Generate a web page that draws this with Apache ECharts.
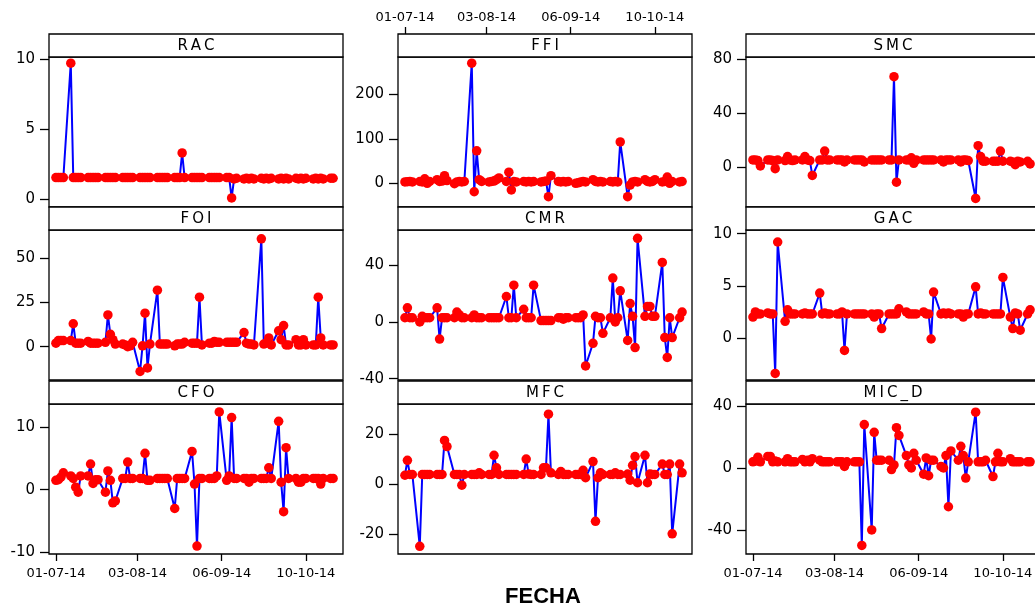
<!DOCTYPE html>
<html>
<head>
<meta charset="utf-8">
<script src="https://cdn.jsdelivr.net/npm/echarts@6/dist/echarts.min.js"></script>
<style>
  html, body { margin: 0; padding: 0; background: #fff; }
  #main { width: 1035px; height: 609px; }
</style>
</head>
<body>
<div id="main"></div>
<script>
// fechas de cotizacion (dias habiles)
const fechas = [
  '01-07-14','02-07-14','03-07-14','04-07-14','07-07-14','08-07-14','09-07-14','10-07-14','11-07-14',
  '14-07-14','15-07-14','16-07-14','17-07-14','18-07-14','21-07-14','22-07-14','23-07-14','24-07-14',
  '25-07-14','28-07-14','29-07-14','30-07-14','31-07-14',
  '01-08-14','04-08-14','05-08-14','06-08-14','07-08-14','08-08-14','11-08-14','12-08-14','13-08-14',
  '14-08-14','15-08-14','18-08-14','19-08-14','20-08-14','21-08-14','22-08-14','25-08-14','26-08-14',
  '27-08-14','28-08-14','29-08-14',
  '01-09-14','02-09-14','03-09-14','04-09-14','05-09-14','08-09-14','09-09-14','10-09-14','11-09-14',
  '12-09-14','15-09-14','16-09-14','17-09-14','18-09-14','19-09-14','22-09-14','23-09-14','24-09-14',
  '25-09-14','26-09-14','29-09-14','30-09-14',
  '01-10-14','02-10-14','03-10-14','06-10-14','07-10-14','08-10-14','09-10-14','10-10-14','13-10-14',
  '14-10-14','15-10-14','16-10-14','17-10-14','20-10-14','21-10-14'
];

// marcas del eje x
const xTickLabels = ['01-07-14', '03-08-14', '06-09-14', '10-10-14'];

const RAC = [
  1.55,1.55,1.55,1.55,9.7,1.55,1.55,1.55,1.55,1.55,
  1.55,1.55,1.55,1.55,1.55,1.55,1.55,1.55,1.55,1.55,
  1.55,1.55,1.55,1.55,1.55,1.55,1.55,1.55,1.55,1.55,
  1.55,1.55,1.55,1.55,1.55,1.55,1.55,3.3,1.55,1.55,
  1.55,1.55,1.55,1.55,1.55,1.55,1.55,1.55,1.55,1.55,
  1.55,0.1,1.45,1.5,1.45,1.5,1.45,1.5,1.45,1.5,
  1.45,1.5,1.45,1.5,1.45,1.5,1.45,1.5,1.45,1.5,
  1.45,1.5,1.45,1.5,1.45,1.5,1.45,1.5,1.45,1.5,
  1.5
];
const FFI = [
  3,3.5,4,3,4,3,10,0,4,8,
  4,5,17,6,-1,3,4,3,4,270,
  -19,73,8,4,3,4,5,8,12,4,
  25,-15,4,3,4,3,4,3,4,3,
  4,5,-30,17,4,3,4,3,4,0,
  1,3,4,3,8,4,3,4,3,4,
  3,4,3,93,-30,-4,3,4,3,8,
  4,3,4,8,3,4,14,0,4,3,
  4
];
const SMC = [
  5.5,5.5,5,1,5.5,5.5,5,-1,5.5,5,
  8,5.5,5,5.5,5.5,8,5.5,5,-6,5.5,
  5.5,12,5.5,5.5,5.5,5.5,5.5,4,5.5,5.5,
  5.5,5.5,5.5,4,5.5,5.5,5.5,5.5,5.5,5.5,
  5.5,67,-11,5.5,5.5,5.5,7,3,5.5,5.5,
  5.5,5.5,5.5,5.5,5.5,4,5.5,5.5,5.5,5.5,
  4,5.5,5.5,5,-23,16,8,4.5,4.5,4.5,
  4.5,4.5,12,4.5,4.5,4,2,4.5,4,4.5,
  2.5
];
const FOI = [
  2,3.5,3.5,3.5,3.5,13,2,2,2,3,
  2,2,2,2,2.5,18,7,4,1.5,1.5,
  1,0,0.5,2.5,-14,0.5,19,-12,1.5,32,
  1.5,1.5,1.5,1.5,0.5,1.5,1.5,1.5,2.5,2,
  2,2,28,1,2,2,3,2.5,2.5,2.5,
  2.5,2.5,2.5,2.5,8,2,1.5,1.5,1,61,
  1.5,2,5,1,9,4,12,1,1,4,
  1,1,4,1,1,1,28,5,1,1,
  1
];
const CMR = [
  3,10,3,3,0,4,3,3,3,10,
  -12,3,3,3,3,7,5,3,3,3,
  5,3,3,3,3,3,3,3,3,18,
  3,3,26,3,9,3,3,3,26,1,
  1,1,1,1,3,3,2,3,3,3,
  3,3,5,-31,-15,4,3,3,-8,3,
  31,0,3,22,-13,13,4,-18,59,4,
  11,11,4,4,42,-11,-25,3,-11,3,
  7
];
const GAC = [
  2.0,2.5,2.3,2.3,2.4,2.3,2.3,-3.4,9.2,1.6,
  2.7,2.3,2.3,2.3,2.3,2.4,2.3,2.3,2.3,4.3,
  2.3,2.4,2.3,2.3,2.3,2.3,2.5,-1.2,2.3,2.3,
  2.3,2.3,2.3,2.3,2.3,2.0,2.3,2.3,0.9,2.3,
  2.3,2.3,2.3,2.8,2.5,2.3,2.3,2.3,2.3,2.5,
  2.3,2.3,-0.1,4.4,2.3,2.4,2.3,2.4,2.3,2.3,
  2.3,2.0,2.3,2.3,4.9,2.3,2.4,2.3,2.3,2.3,
  2.3,2.3,2.3,5.8,2.0,0.9,2.4,2.3,0.75,2.3,
  2.7
];
const CFO = [
  1.5,1.6,2.0,2.7,2.2,1.8,0.4,-0.4,2.2,2.2,
  4.1,1.0,1.6,1.6,-0.4,3.0,1.5,-2.1,-1.8,1.8,
  1.8,4.4,1.8,1.8,1.8,1.8,5.8,1.5,1.5,1.8,
  1.8,1.8,1.8,1.8,-3,1.8,1.8,1.8,1.8,6.1,
  0.9,-9,1.8,1.8,1.8,1.8,1.8,2.2,12.4,1.5,
  2.2,11.5,1.8,1.8,1.8,1.8,1.2,1.8,1.8,1.8,
  1.8,1.8,3.5,1.8,10.9,1.2,-3.5,6.7,1.8,1.8,
  1.2,1.2,1.8,1.8,1.8,1.8,1.8,0.9,1.8,1.8,
  1.8
];
const MFC = [
  3.5,9.5,3.8,3.8,-25,3.8,3.8,3.8,3.8,3.8,
  3.8,3.8,17.5,15,3.8,3.8,3.8,-0.5,3.8,3.8,
  3.8,3.8,4.5,3.8,3.8,3.8,11.5,6.5,3.8,3.8,
  3.8,3.8,3.8,3.8,3.8,10,4,3.8,3.8,3.8,
  6.5,6.5,28,4.5,3.8,5,3.8,3.8,3.8,3.8,
  3.8,3.8,5.5,2.5,9,-15,2.5,4.5,3.8,3.8,
  3.8,4.5,3.8,3.8,4,1.5,7.5,11,0.5,11.5,
  0.5,4,3.8,3.8,8,3.8,3.8,8,-20,8,
  4.5
];
const MIC_D = [
  4,4.5,7,4,7.5,7.5,4,4.5,4,4,
  6,4,4,4,5.5,4,5,4,6,5,
  4,4,4,4,4,4,4,1,4,4,
  4,4,-50,28,-40,23,5,5,5,5,
  -1,2,26,21,8,2,0,9.5,5,-4,
  6.5,-5,5,5,1,0,8,-25,11,5,
  14,8,-6.5,4,36,4,4,4,5,-5.5,
  4,9.5,4,4,6,4,4,4,4,4,
  4
];

// dia relativo al 01-07-14
function diaDe(f) {
  const p = f.split('-');
  return (Date.UTC(2000 + +p[2], +p[1] - 1, +p[0]) - Date.UTC(2014, 6, 1)) / 86400000;
}
const dias = fechas.map(diaDe);
const xTicks = xTickLabels.map(diaDe);

const paneles = [
  { nombre: 'RAC',   datos: RAC,   col: 0, fila: 0, min: -0.55, max: 10.14, ticks: [0, 5, 10] },
  { nombre: 'FFI',   datos: FFI,   col: 1, fila: 0, min: -53.3, max: 283.8, ticks: [0, 100, 200] },
  { nombre: 'SMC',   datos: SMC,   col: 2, fila: 0, min: -29.3, max: 81.5,  ticks: [0, 40, 80] },
  { nombre: 'FOI',   datos: FOI,   col: 0, fila: 1, min: -18.8, max: 66,    ticks: [0, 25, 50] },
  { nombre: 'CMR',   datos: CMR,   col: 1, fila: 1, min: -40.9, max: 64.9,  ticks: [-40, 0, 40] },
  { nombre: 'GAC',   datos: GAC,   col: 2, fila: 1, min: -4.03, max: 10.35, ticks: [0, 5, 10] },
  { nombre: 'CFO',   datos: CFO,   col: 0, fila: 2, min: -10.26, max: 13.67, ticks: [-10, 0, 10] },
  { nombre: 'MFC',   datos: MFC,   col: 1, fila: 2, min: -28.1, max: 32.1,  ticks: [-20, 0, 20] },
  { nombre: 'MIC_D', datos: MIC_D, col: 2, fila: 2, min: -55.5, max: 41.3,  ticks: [-40, 0, 40] }
];

const colX = [49, 398, 746];
const anchoPanel = 294;
const filaY = [57, 230, 404];
const altoPanel = 150;
const altoStrip = 23;
const xMin = -2.8, xMax = 116;
const fuente = 'DejaVu Sans';
const tickStyle = { color: '#000', width: 1.3 };

const grids = [], xAxes = [], yAxes = [], series = [], graficos = [];

paneles.forEach((p, i) => {
  grids.push({
    left: colX[p.col], top: filaY[p.fila], width: anchoPanel, height: altoPanel,
    show: true, borderColor: '#000', borderWidth: 1.3, backgroundColor: '#fff',
    outerBoundsMode: 'none'
  });
  const conEjeX = p.fila === 2 && p.col !== 1;
  xAxes.push({
    type: 'value', gridIndex: i, min: xMin, max: xMax, position: 'bottom',
    splitLine: { show: false },
    axisLine: { show: false, onZero: false },
    axisTick: { show: conEjeX, customValues: xTicks, length: 7, lineStyle: tickStyle },
    axisLabel: {
      show: conEjeX, customValues: xTicks, margin: 13, color: '#000', fontFamily: fuente, fontSize: 13,
      formatter: v => xTickLabels[xTicks.indexOf(v)]
    }
  });
  yAxes.push({
    type: 'value', gridIndex: i, min: p.min, max: p.max, position: 'left',
    splitLine: { show: false },
    axisLine: { show: false, onZero: false },
    axisTick: { show: true, customValues: p.ticks, length: 9, lineStyle: tickStyle },
    axisLabel: { customValues: p.ticks, margin: 14, color: '#000', fontFamily: fuente, fontSize: 15 }
  });
  series.push({
    type: 'line', xAxisIndex: i, yAxisIndex: i,
    data: dias.map((d, k) => [d, p.datos[k]]),
    symbol: 'circle', symbolSize: 9.5, showSymbol: true,
    lineStyle: { color: '#0000ff', width: 2 },
    itemStyle: { color: '#ff0000', borderWidth: 0 },
    emphasis: { disabled: true }
  });
  // cabecera del panel
  graficos.push({
    type: 'rect',
    shape: { x: colX[p.col], y: filaY[p.fila] - altoStrip, width: anchoPanel, height: altoStrip },
    style: { fill: '#fff', stroke: '#000', lineWidth: 1.3 }
  });
  graficos.push({
    type: 'text',
    x: colX[p.col] + anchoPanel / 2, y: filaY[p.fila] - altoStrip / 2 + 1,
    style: {
      text: p.nombre.split('').join('\u2009'), fill: '#000',
      font: '15px "DejaVu Sans"', textAlign: 'center', textVerticalAlign: 'middle'
    }
  });
});

// eje x superior de la columna central
grids.push({ left: colX[1], top: filaY[0] - altoStrip, width: anchoPanel, height: altoPanel + altoStrip, show: false, outerBoundsMode: 'none' });
xAxes.push({
  type: 'value', gridIndex: 9, min: xMin, max: xMax, position: 'top',
  splitLine: { show: false }, axisLine: { show: false, onZero: false },
  axisTick: { show: true, customValues: xTicks, length: 7, lineStyle: tickStyle },
  axisLabel: {
    customValues: xTicks, margin: 10, color: '#000', fontFamily: fuente, fontSize: 13,
    formatter: v => xTickLabels[xTicks.indexOf(v)]
  }
});
yAxes.push({ type: 'value', gridIndex: 9, min: 0, max: 1, show: false });

graficos.push({
  type: 'text', x: 543, y: 597,
  style: {
    text: 'FECHA', fill: '#000', font: 'bold 22px "Liberation Sans"',
    textAlign: 'center', textVerticalAlign: 'middle'
  }
});

const chart = echarts.init(document.getElementById('main'), null, { renderer: 'canvas' });
chart.setOption({
  animation: false,
  backgroundColor: '#fff',
  grid: grids,
  xAxis: xAxes,
  yAxis: yAxes,
  series: series,
  graphic: { elements: graficos }
});
</script>
</body>
</html>
